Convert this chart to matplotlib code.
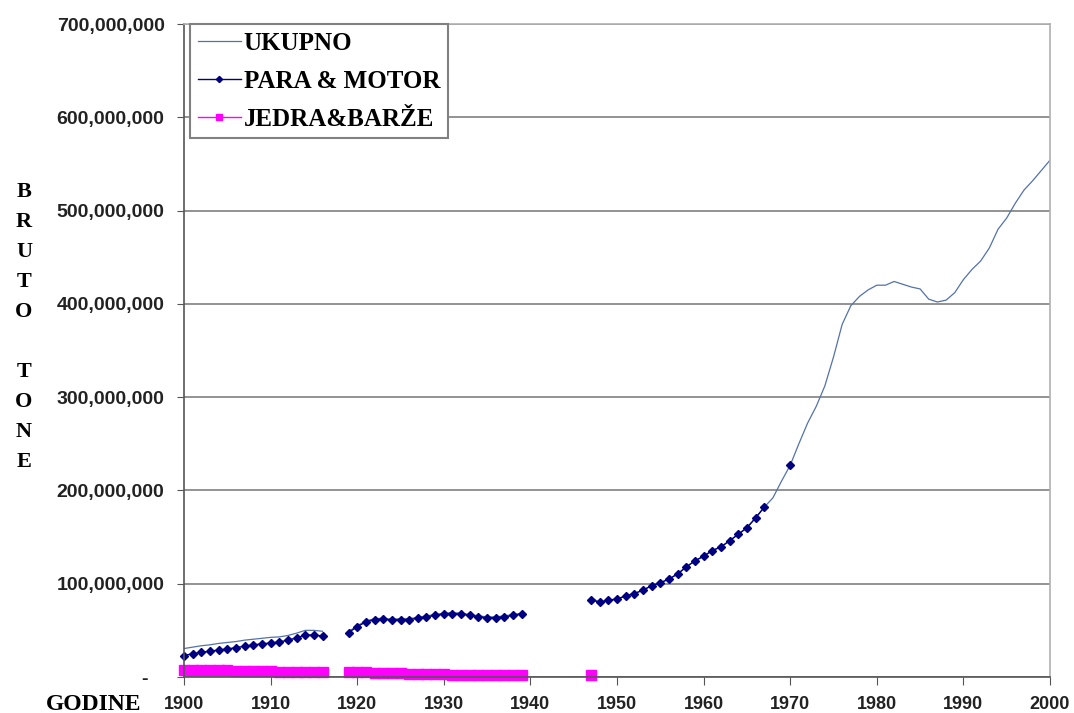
import numpy as np
import matplotlib
matplotlib.use("Agg")
import matplotlib.pyplot as plt
from matplotlib.ticker import FuncFormatter

# values in millions of gross tons
years_a = list(range(1900, 1917))
para_a = [23, 25, 26.5, 27.5, 29, 30, 31.5, 33, 34.5, 35.5, 36.5, 37.5, 39.5, 42, 45, 45, 44]
jedra_a = [7.5, 7.5, 7.5, 7.5, 7, 7, 6.5, 6.5, 6, 6, 6, 5.5, 5, 5, 5, 5, 5]
ukupno_a = [30.5, 32, 33.5, 34.5, 36, 37, 38, 39.5, 40.5, 41.5, 42.5, 43, 44.5, 47, 50, 50, 49]

years_b = list(range(1919, 1940))
para_b = [47.5, 54, 59, 61.5, 62, 61, 61.5, 61.5, 63, 64.5, 66, 67.5, 68, 67.5, 66,
          64.5, 63.5, 63.5, 64.5, 66, 67.5]
jedra_b = [5, 5.5, 5, 4.5, 4.5, 4, 4, 3.5, 3.5, 3, 3, 3, 2.5, 2.5, 2.5, 2.5, 2, 2, 2, 2, 2]
ukupno_b = [48.5, 55, 60, 62.5, 63, 62, 62.5, 62.5, 64, 65.5, 67, 68.5, 69, 68.5, 67,
            65.5, 64.5, 64.5, 65.5, 67, 68.5]

years_c = list(range(1947, 1968))
para_c = [83, 80, 82.5, 83.5, 87, 89.5, 93, 98, 101, 105, 110.5, 118, 124.5, 129.5, 135.5,
          139.5, 146, 153, 160, 170.5, 182]
ukupno_c = [85, 80, 82.5, 83.5, 87, 89.5, 93, 98, 101, 105, 110.5, 118, 124.5, 129.5, 135.5,
            139.5, 146, 153, 160, 170.5, 182]
jedra_1947 = 2

years_d = list(range(1968, 2001))
ukupno_d = [192, 210, 227, 250, 272, 290, 312, 343, 378, 398,
            408, 415, 420, 420, 424, 421, 418, 416, 405, 402,
            404, 412, 426, 437, 446, 460, 480, 492, 508, 522,
            532, 543, 554]
para_1970 = 227

x_ticks = list(range(1900, 2001, 10))
y_ticks = list(range(0, 700000001, 100000000))

M = 1e6
nan = np.nan

uk_x = years_a + [nan] + years_b + [nan] + years_c + years_d
uk_y = ukupno_a + [nan] + ukupno_b + [nan] + ukupno_c + ukupno_d
pm_x = years_a + [nan] + years_b + [nan] + years_c + [nan, 1970]
pm_y = para_a + [nan] + para_b + [nan] + para_c + [nan, para_1970]
jb_x = years_a + [nan] + years_b + [nan, 1947]
jb_y = jedra_a + [nan] + jedra_b + [nan, jedra_1947]

fig = plt.figure(figsize=(10.74, 7.13), dpi=100)
ax = fig.add_axes([184 / 1074, 36 / 713, 866 / 1074, 653 / 713])

ax.plot(uk_x, np.array(uk_y) * M, color="#5472AA", lw=0.9, label="UKUPNO")
ax.plot(pm_x, np.array(pm_y) * M, color="#000080", lw=1.0, marker="D", ms=4.5,
        label="PARA & MOTOR", clip_on=False)
ax.plot(jb_x, np.array(jb_y) * M, color="#FF00FF", lw=1.0, marker="s", ms=6.5,
        label="JEDRA&BARŽE", clip_on=False)

ax.set_xlim(1900, 2000)
ax.set_ylim(0, 700000000)
ax.set_xticks(x_ticks)
ax.set_yticks(y_ticks)
ax.yaxis.set_major_formatter(FuncFormatter(lambda v, p: "-   " if v == 0 else f"{v:,.0f}"))
ax.grid(axis="y", color="#808080", lw=1.2)
ax.set_axisbelow(True)

for lab in ax.get_xticklabels() + ax.get_yticklabels():
    lab.set_family("Liberation Sans")
    lab.set_weight("bold")
    lab.set_color("#222222")
ax.tick_params(axis="y", labelsize=14, length=5, color="#555555", pad=9)
ax.tick_params(axis="x", labelsize=13, length=6, color="#555555", pad=8)

for s in ["left", "bottom"]:
    ax.spines[s].set_color("#555555")
    ax.spines[s].set_linewidth(1.2)
for s in ["top", "right"]:
    ax.spines[s].set_color("#b0b0b0")
    ax.spines[s].set_linewidth(1.2)

leg = ax.legend(loc="upper left", bbox_to_anchor=(0.007, 1.0), borderaxespad=0,
                prop={"family": "Liberation Serif", "weight": "bold", "size": 18},
                handlelength=1.75, handletextpad=0.1, labelspacing=0.6,
                borderpad=0.3, fancybox=False, framealpha=1, markerscale=0.7)
leg.get_frame().set_edgecolor("#808080")
leg.get_frame().set_linewidth(1.5)

fig.text(24 / 1074, 1 - 327 / 713, "B\nR\nU\nT\nO\n\nT\nO\nN\nE", ha="center", va="center",
         family="Liberation Serif", weight="bold", fontsize=16, linespacing=1.66)
fig.text(94 / 1074, 1 - 704 / 713, "GODINE", ha="center", va="center",
         family="Liberation Serif", weight="bold", fontsize=17)

fig.savefig("out.png", dpi=100)
